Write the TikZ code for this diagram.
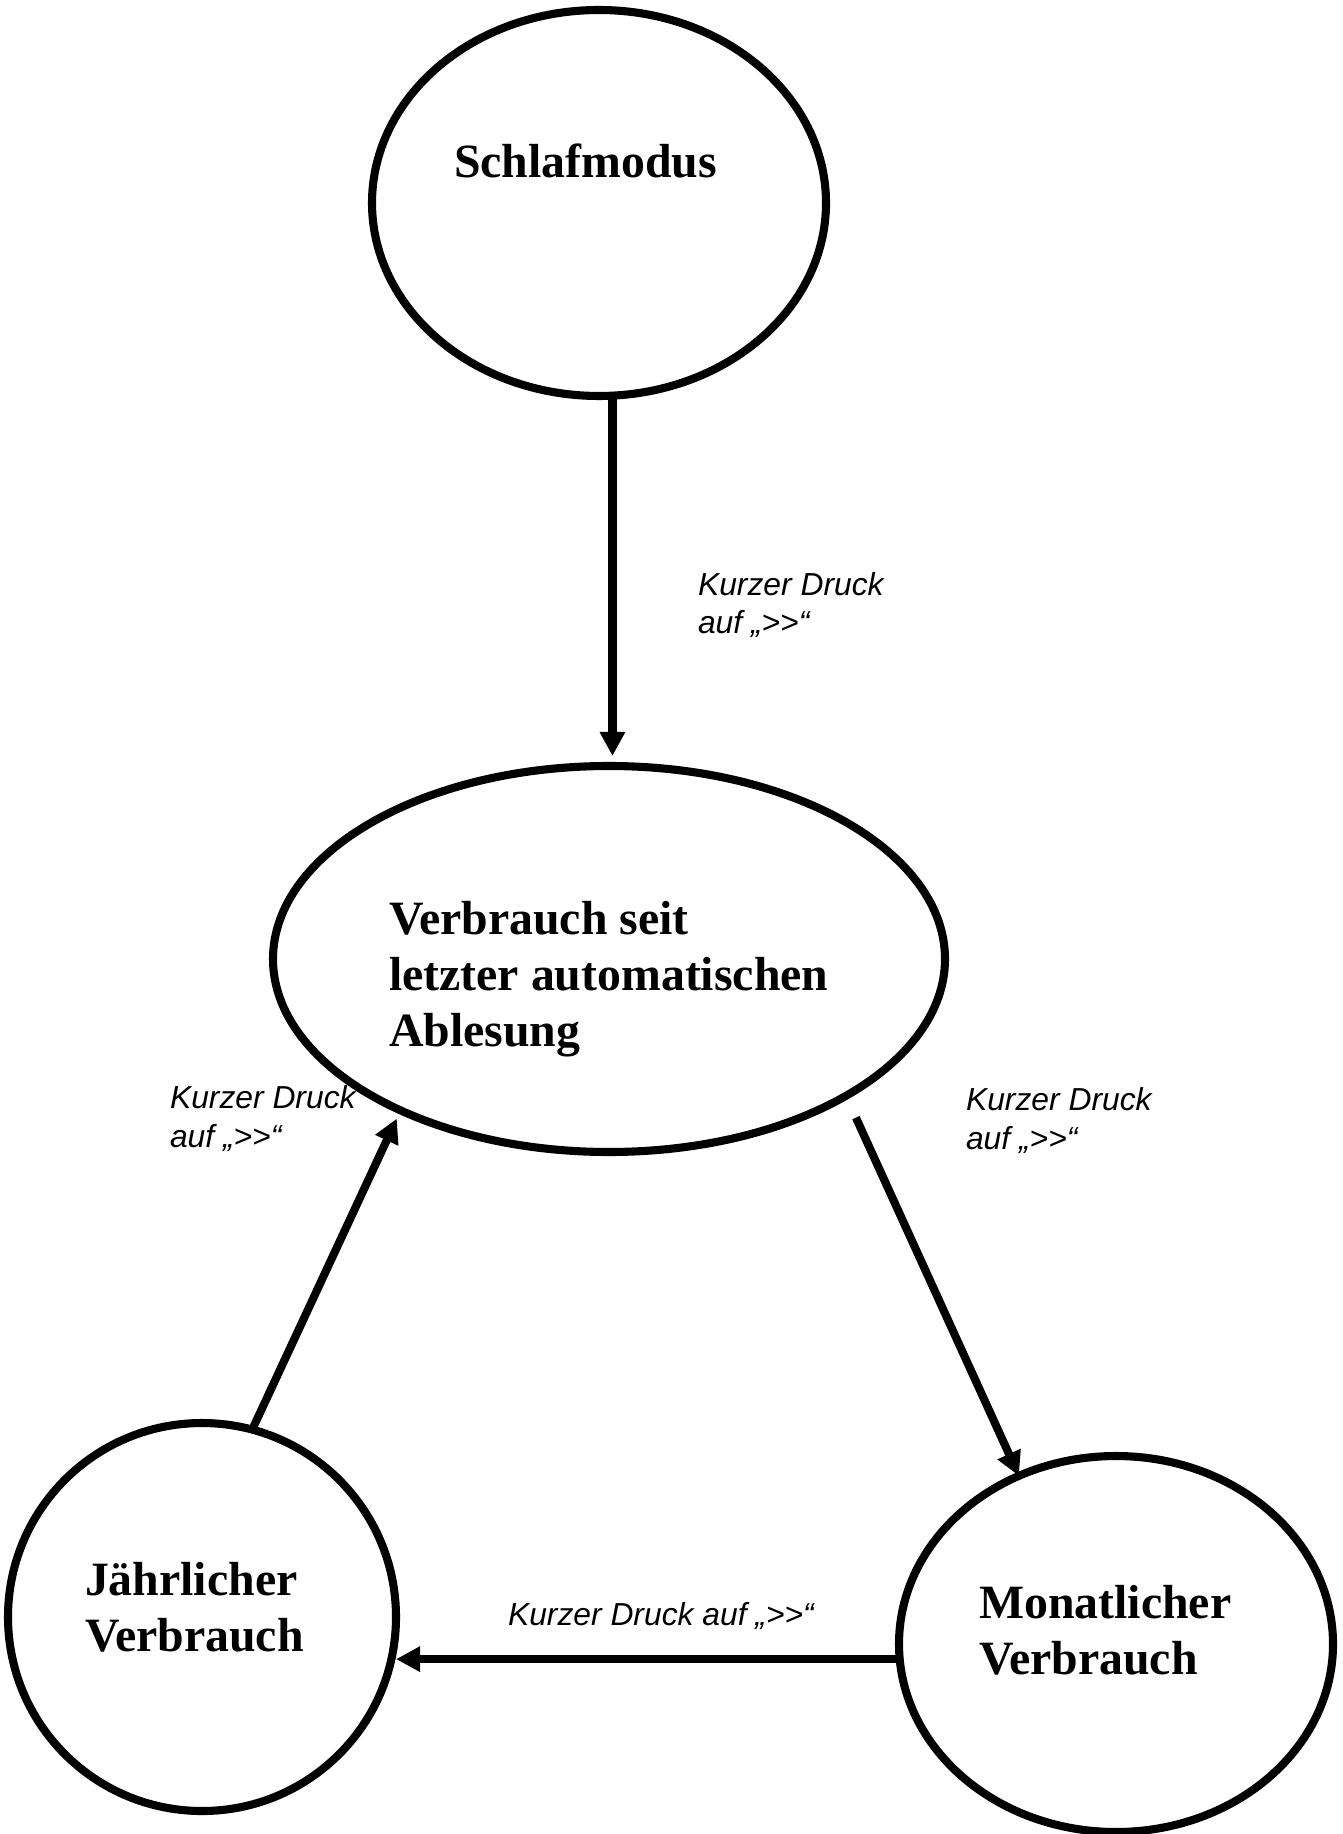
\documentclass[tikz,border=0pt]{standalone}
\usepackage{fontspec}
\setmainfont{Liberation Serif}
\newfontfamily\druckfont{Liberation Sans}[Ligatures=TeXOff]
\usetikzlibrary{arrows.meta,shapes.geometric}

\newcommand{\druck}{Kurzer Druck}

\begin{document}
\begin{tikzpicture}[>={Triangle[length=0.24cm,width=0.24cm]},line width=2.3pt,
	zustand/.style={draw,ellipse,line width=2.3pt,inner sep=0pt,outer sep=0pt},
	titel/.style={anchor=base west,align=left,inner sep=0pt,
		font=\fontsize{13.6}{15.8}\selectfont\bfseries},
	hinweis/.style={anchor=base west,align=left,inner sep=0pt,
		font=\druckfont\itshape\fontsize{9.05}{11}\selectfont}]
	\useasboundingbox (0,0) rectangle (13.42,-18.34);

	\node[zustand,minimum width=4.54cm,minimum height=3.86cm] (schlaf) at (5.99,-2.03) {};
	\node[zustand,minimum width=6.72cm,minimum height=3.86cm] (aktuell) at (6.09,-9.59) {};
	\node[zustand,minimum width=3.88cm,minimum height=3.88cm] (jahr) at (2.02,-16.17) {};
	\node[zustand,minimum width=4.34cm,minimum height=3.76cm] (monat) at (11.16,-16.44) {};

	\node[titel] (schlaftext) at (4.50,-1.78) {Schlafmodus};
	\node[titel] (aktuelltext) at (3.85,-10.46) {Verbrauch seit\\letzter automatischen\\Ablesung};
	\node[titel] (jahrtext) at (0.81,-16.51) {Jährlicher\\Verbrauch};
	\node[titel] (monattext) at (9.75,-16.74) {Monatlicher\\Verbrauch};

	\draw[->,shorten >=0.1cm] (schlaf.-86) -- (schlaf.-86 |- aktuell.north);
	\draw[->,shorten <=0.24cm] (aktuell.-30) -- (monat.120);
	\draw[->] (monat.184) -- (monat.184 -| jahr.east);
	\draw[->,shorten >=0.09cm] (jahr.75) -- (aktuell.-144);

	\node[hinweis] (oben) at (6.94,-6.34) {\druck\\auf „>>“};
	\node[hinweis] (links) at (1.66,-11.47) {\druck\\auf „>>“};
	\node[hinweis] (rechts) at (9.62,-11.49) {\druck\\auf „>>“};
	\node[hinweis] (unten) at (5.04,-16.25) {\druck{} auf „>>“};
\end{tikzpicture}
\end{document}
